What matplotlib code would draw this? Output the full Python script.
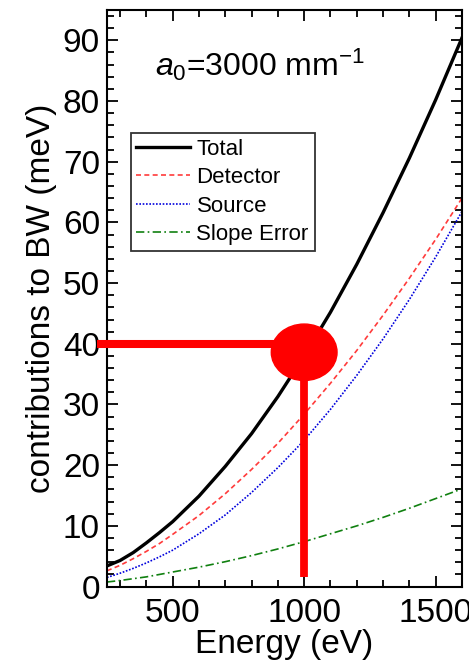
import matplotlib
matplotlib.use("Agg")
import matplotlib.pyplot as plt
from matplotlib.patches import Ellipse
from matplotlib.ticker import MultipleLocator

# Energi foton (eV) dan kontribusi masing-masing terhadap bandwidth (meV)
energi = [250, 300, 350, 400, 450, 500, 600, 700, 800, 900, 1000, 1100, 1200, 1300, 1400, 1500, 1600]
bw_total = [3.4, 4.3, 5.6, 7.2, 8.9, 10.7, 14.9, 19.8, 25.2, 31.3, 38.0, 45.2, 53.1, 61.6, 70.6, 80.2, 90.4]
bw_detektor = [2.6, 3.5, 4.6, 5.8, 7.1, 8.6, 11.7, 15.3, 19.3, 23.6, 28.4, 33.5, 38.9, 44.7, 50.8, 57.2, 64.0]
bw_sumber = [1.5, 2.2, 3.0, 3.9, 4.9, 6.0, 8.7, 11.8, 15.5, 19.6, 24.1, 29.2, 34.8, 40.8, 47.3, 54.3, 61.8]
bw_slope = [0.75, 1.0, 1.3, 1.6, 2.0, 2.4, 3.2, 4.1, 5.1, 6.2, 7.4, 8.7, 10.0, 11.4, 12.9, 14.5, 16.1]

# Titik penanda pada 1000 eV
titik_e = 1000
titik_bw = 38.6
garis_bw = 40

plt.rcParams['font.family'] = ['Liberation Sans', 'DejaVu Sans']
plt.rcParams['mathtext.fontset'] = 'custom'
plt.rcParams['mathtext.rm'] = 'Liberation Sans'
plt.rcParams['mathtext.it'] = 'Liberation Sans:italic'


def buat_grafik():
    fig = plt.figure(figsize=(4.69, 6.64), dpi=100)
    ax = fig.add_axes([0.228, 0.1166, 0.757, 0.8684])

    ax.plot(energi, bw_total, color='black', linewidth=2.4, label='Total')
    ax.plot(energi, bw_detektor, color='#ff3b3b', linestyle=(0, (3, 2)), linewidth=1.2, label='Detector')
    ax.plot(energi, bw_sumber, color='#0000dd', linestyle=(0, (1, 1)), linewidth=1.2, label='Source')
    ax.plot(energi, bw_slope, color='#108010', linestyle=(0, (5, 2, 1, 2)), linewidth=1.2, label='Slope Error')

    # Penanda merah: garis horizontal, garis vertikal dan elips
    ax.plot([213, titik_e], [garis_bw, garis_bw], color='red', linewidth=5.8,
            solid_capstyle='butt', clip_on=False, zorder=5)
    ax.plot([titik_e, titik_e], [1.6, titik_bw], color='red', linewidth=5.6,
            solid_capstyle='butt', zorder=5)
    ax.add_patch(Ellipse((titik_e, titik_bw), 250, 9.3, color='red', zorder=6))

    ax.set_xlim(250, 1600)
    ax.set_ylim(0, 95)
    ax.xaxis.set_major_locator(MultipleLocator(500))
    ax.xaxis.set_minor_locator(MultipleLocator(100))
    ax.yaxis.set_major_locator(MultipleLocator(10))
    ax.yaxis.set_minor_locator(MultipleLocator(2))
    ax.tick_params(which='both', direction='in', top=True, right=True, width=1.3)
    ax.tick_params(which='major', length=8, labelsize=24)
    ax.tick_params(axis='x', which='major', pad=8)
    ax.tick_params(axis='y', which='major', pad=5)
    ax.tick_params(which='minor', length=5)
    for sp in ax.spines.values():
        sp.set_linewidth(1.5)

    ax.set_xlabel('Energy (eV)', fontsize=24, labelpad=0)
    ax.set_ylabel('contributions to BW (meV)', fontsize=24, labelpad=4)

    ax.text(0.135, 0.905, r'$a_0$=3000 mm$^{-1}$', transform=ax.transAxes,
            fontsize=23, va='center', ha='left')

    leg = ax.legend(loc='upper left', bbox_to_anchor=(0.067, 0.787), borderaxespad=0,
                    fontsize=16, handlelength=2.4, handletextpad=0.3, labelspacing=0.34,
                    borderpad=0.26, fancybox=False, frameon=True)
    leg.get_frame().set_edgecolor('black')
    leg.get_frame().set_linewidth(1.3)

    fig.savefig('out.png', dpi=100)
    plt.close(fig)


if __name__ == "__main__":
    buat_grafik()
